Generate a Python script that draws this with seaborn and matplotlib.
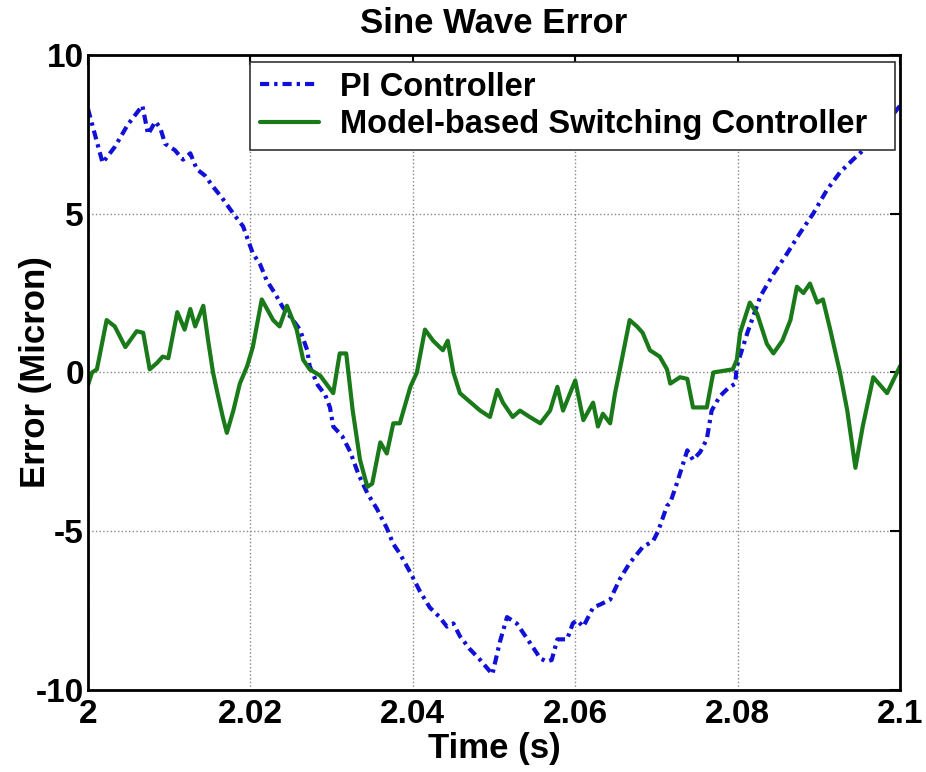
import numpy as np
import pandas as pd
import matplotlib
matplotlib.use('Agg')
import matplotlib.pyplot as plt
import seaborn as sns

# PI controller error
pi_time = [2.0000, 2.0018, 2.0033, 2.0049, 2.0067, 2.0074, 2.0083, 2.0089, 2.0095, 2.0107,
           2.0117, 2.0126, 2.0134, 2.0144, 2.0154, 2.0165, 2.0179, 2.0191, 2.0203, 2.0212,
           2.0220, 2.0230, 2.0240, 2.0251, 2.0261, 2.0270, 2.0273, 2.0283, 2.0292, 2.0298,
           2.0302, 2.0313, 2.0323, 2.0333, 2.0344, 2.0356, 2.0368, 2.0376, 2.0384, 2.0397,
           2.0409, 2.0421, 2.0433, 2.0442, 2.0450, 2.0458, 2.0470, 2.0483, 2.0498, 2.0507,
           2.0516, 2.0528, 2.0544, 2.0557, 2.0565, 2.0571, 2.0578, 2.0590, 2.0597, 2.0602,
           2.0610, 2.0622, 2.0631, 2.0643, 2.0655, 2.0667, 2.0683, 2.0696, 2.0702, 2.0713,
           2.0717, 2.0725, 2.0738, 2.0745, 2.0754, 2.0762, 2.0768, 2.0778, 2.0788, 2.0797,
           2.0799, 2.0812, 2.0828, 2.0844, 2.0861, 2.0877, 2.0893, 2.0910, 2.0926, 2.0942,
           2.0959, 2.0975, 2.1000]
pi_error = [8.3, 6.6, 7.1, 7.8, 8.4, 7.5, 7.9, 7.7, 7.2, 7.0,
            6.7, 6.9, 6.4, 6.2, 5.85, 5.5, 5.0, 4.6, 3.75, 3.4,
            2.9, 2.5, 2.05, 1.7, 1.35, 0.7, 0.2, -0.4, -0.7, -1.1,
            -1.7, -2.0, -2.5, -3.2, -3.8, -4.3, -4.9, -5.4, -5.7, -6.3,
            -6.9, -7.4, -7.7, -8.0, -7.9, -8.3, -8.7, -9.05, -9.5, -8.5,
            -7.7, -7.9, -8.5, -9.0, -9.1, -9.05, -8.4, -8.4, -7.9, -7.8,
            -8.0, -7.4, -7.3, -7.15, -6.5, -6.0, -5.5, -5.3, -5.0, -4.2,
            -4.1, -3.5, -2.45, -2.75, -2.5, -2.1, -1.2, -0.75, -0.5, -0.35,
            0.2, 1.25, 2.4, 3.1, 3.75, 4.4, 5.0, 5.75, 6.3, 6.7,
            7.1, 7.6, 8.4]

# Model-based switching controller error
sw_time = [2.0000, 2.0005, 2.0011, 2.0023, 2.0033, 2.0046, 2.0060, 2.0068, 2.0076, 2.0085,
           2.0092, 2.0099, 2.0110, 2.0119, 2.0126, 2.0132, 2.0142, 2.0148, 2.0154, 2.0159,
           2.0166, 2.0171, 2.0179, 2.0187, 2.0196, 2.0203, 2.0214, 2.0228, 2.0236, 2.0245,
           2.0257, 2.0265, 2.0273, 2.0286, 2.0302, 2.0310, 2.0318, 2.0326, 2.0335, 2.0344,
           2.0350, 2.0360, 2.0368, 2.0376, 2.0384, 2.0397, 2.0405, 2.0415, 2.0425, 2.0437,
           2.0443, 2.0450, 2.0458, 2.0467, 2.0483, 2.0495, 2.0504, 2.0511, 2.0523, 2.0532,
           2.0544, 2.0557, 2.0569, 2.0578, 2.0585, 2.0600, 2.0610, 2.0622, 2.0628, 2.0634,
           2.0643, 2.0649, 2.0655, 2.0667, 2.0676, 2.0683, 2.0692, 2.0704, 2.0713, 2.0717,
           2.0729, 2.0738, 2.0745, 2.0762, 2.0770, 2.0794, 2.0799, 2.0803, 2.0815, 2.0824,
           2.0836, 2.0844, 2.0855, 2.0865, 2.0873, 2.0881, 2.0889, 2.0898, 2.0905, 2.0914,
           2.0926, 2.0935, 2.0945, 2.0954, 2.0967, 2.0984, 2.1000]
sw_error = [-0.4, 0.0, 0.1, 1.65, 1.45, 0.8, 1.3, 1.25, 0.1, 0.3,
            0.5, 0.45, 1.9, 1.35, 2.0, 1.45, 2.1, 1.0, 0.0, -0.6,
            -1.4, -1.9, -1.2, -0.35, 0.2, 0.8, 2.3, 1.65, 1.45, 2.1,
            1.35, 0.4, 0.1, -0.1, -0.65, 0.6, 0.6, -1.2, -2.75, -3.6,
            -3.5, -2.2, -2.55, -1.6, -1.6, -0.45, 0.0, 1.35, 1.0, 0.7,
            1.0, 0.0, -0.65, -0.85, -1.2, -1.4, -0.55, -0.95, -1.4, -1.2,
            -1.4, -1.6, -1.2, -0.45, -1.2, -0.25, -1.5, -0.95, -1.7, -1.3,
            -1.6, -0.65, 0.1, 1.65, 1.45, 1.25, 0.7, 0.5, 0.1, -0.35,
            -0.15, -0.2, -1.1, -1.1, 0.0, 0.1, 0.4, 1.25, 2.2, 1.85,
            0.9, 0.6, 1.0, 1.65, 2.7, 2.5, 2.8, 2.2, 2.3, 1.35,
            0.0, -1.2, -3.0, -1.7, -0.15, -0.65, 0.2]

x_ticks = [2, 2.02, 2.04, 2.06, 2.08, 2.1]
x_tick_labels = ['2', '2.02', '2.04', '2.06', '2.08', '2.1']
y_ticks = [-10, -5, 0, 5, 10]
y_tick_labels = ['-10', '-5', '0', '5', '10']

sns.set_style('white')
plt.rcParams['font.family'] = ['Liberation Sans', 'DejaVu Sans']
plt.rcParams['font.weight'] = 'bold'
plt.rcParams['text.color'] = 'black'
plt.rcParams['axes.labelcolor'] = 'black'
plt.rcParams['xtick.color'] = 'black'
plt.rcParams['ytick.color'] = 'black'

pi_df = pd.DataFrame({'time': pi_time, 'error': pi_error})
sw_df = pd.DataFrame({'time': sw_time, 'error': sw_error})

fig = plt.figure(figsize=(9.26, 7.72), dpi=100)
ax = fig.add_axes([0.095, 0.106, 0.877, 0.823])

sns.lineplot(data=pi_df, x='time', y='error', ax=ax, sort=False, color='#1010d8',
             linewidth=3, label='PI Controller')
ax.lines[-1].set_linestyle((0, (2.2, 1.2, 0.8, 1.2)))
sns.lineplot(data=sw_df, x='time', y='error', ax=ax, sort=False, color='#1a7a1a',
             linewidth=3, label='Model-based Switching Controller')

ax.set_xlim(2, 2.1)
ax.set_ylim(-10, 10)
ax.set_xticks(x_ticks)
ax.set_xticklabels(x_tick_labels)
ax.set_yticks(y_ticks)
ax.set_yticklabels(y_tick_labels)
ax.tick_params(axis='both', direction='in', length=7, width=1.5, labelsize=24,
               top=True, right=True)
ax.tick_params(axis='x', pad=6)
ax.tick_params(axis='y', pad=3)
for lab in ax.get_xticklabels() + ax.get_yticklabels():
    lab.set_fontweight('bold')
ax.grid(True, linestyle=':', color='#888888', linewidth=1)
for sp in ax.spines.values():
    sp.set_linewidth(2)
    sp.set_color('black')

ax.set_title('Sine Wave Error', fontsize=25, fontweight='bold', pad=16)
ax.set_xlabel('Time (s)', fontsize=25, fontweight='bold')
ax.set_ylabel('Error (Micron)', fontsize=25, fontweight='bold')
ax.yaxis.set_label_coords(-0.044, 0.5)
ax.xaxis.set_label_coords(0.5, -0.066)

leg = ax.legend(loc='upper left', bbox_to_anchor=(0.1995, 0.85, 0.7943, 0.139),
                mode='expand', borderaxespad=0,
                fontsize=23.5, frameon=True, fancybox=False, framealpha=1,
                edgecolor='#333333', handlelength=1.8, borderpad=0.3,
                labelspacing=0.2, handletextpad=0.65)
leg.get_frame().set_linewidth(1.2)
for t in leg.get_texts():
    t.set_fontweight('bold')

fig.savefig('out.png', dpi=100)
